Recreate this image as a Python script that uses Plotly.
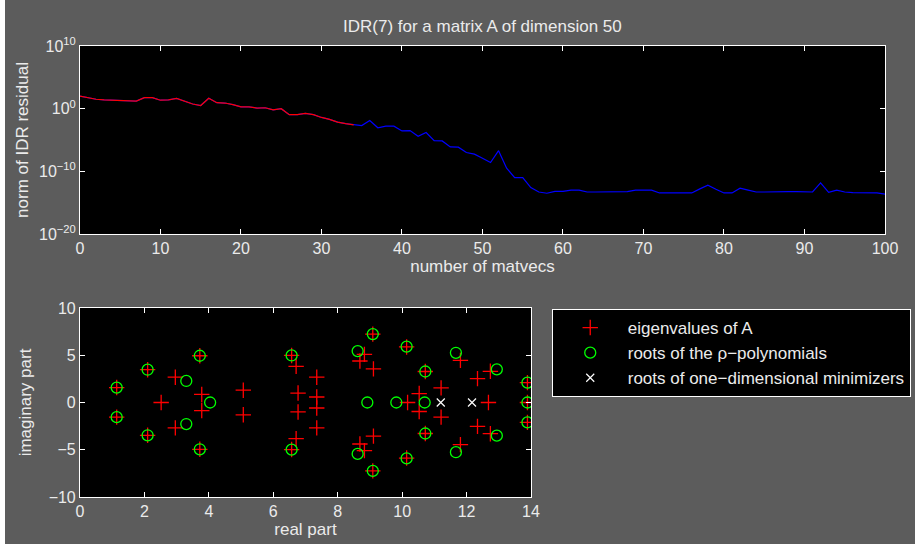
import plotly.graph_objects as go

# ---- residual history (log10 of the IDR residual norm) ----
matvecs = list(range(0, 101))
log_res = [2.0, 1.75, 1.5, 1.4, 1.35, 1.25, 1.2, 1.2, 1.75, 1.75,
           1.35, 1.4, 1.65, 1.25, 0.75, 0.5, 1.65, 0.95, 0.9, 0.65,
           0.3, 0.3, 0.1, 0.15, -0.2, 0.0, -0.95, -0.95, -0.75, -0.95,
           -1.4, -1.7, -2.15, -2.4, -2.6, -2.7, -1.9, -3.05, -2.8, -2.8,
           -3.55, -3.5, -4.4, -3.8, -5.1, -5.15, -6.1, -6.15, -7.0, -7.25,
           -7.9, -8.6, -6.7, -9.5, -11.0, -11.0, -12.6, -13.3, -13.5, -13.2,
           -13.2, -13.0, -13.0, -13.3, -13.3, -13.3, -13.25, -13.2, -13.25, -13.0,
           -13.0, -13.0, -13.45, -13.45, -13.5, -13.4, -13.45, -12.8, -12.2, -12.85,
           -13.45, -13.45, -12.7, -13.0, -13.3, -13.3, -13.25, -13.3, -13.25, -13.25,
           -13.25, -13.3, -11.85, -13.35, -13.0, -13.3, -13.4, -13.45, -13.45, -13.45,
           -13.65]
red_end = 34
residual = [10 ** v for v in log_res]

# ---- eigenvalues of A ----
eig_re = [1.14, 1.14, 2.1, 2.1, 2.52, 2.96, 2.96, 3.72, 3.72, 3.78, 3.78,
          5.07, 5.07, 6.57, 6.57, 6.71, 6.71, 6.77, 6.77,
          7.35, 7.35, 7.35, 7.35,
          9.09, 9.09, 8.83, 8.69, 8.69, 8.83, 9.11, 9.11, 10.14, 10.14, 10.17,
          10.53, 10.53, 10.72, 10.72, 11.21, 11.21, 11.81, 11.81, 12.34, 12.34,
          12.68, 12.74, 12.74, 13.89, 13.89, 13.89]
eig_im = [1.58, -1.55, 3.47, -3.47, 0.0, 2.68, -2.68, 4.95, -4.95, 0.85, -0.85,
          1.3, -1.3, 4.98, -4.98, 3.83, -3.83, 1.0, -1.0,
          2.68, 0.58, -0.58, -2.68,
          7.24, -7.24, 5.09, 4.39, -4.39, -5.09, 3.56, -3.56, 5.88, -5.88, 0.0,
          0.95, -0.95, 3.28, -3.28, 1.55, -1.55, 4.46, -4.46, 2.53, -2.53,
          0.0, 3.3, -3.3, 2.1, 0.0, -2.1]

# ---- roots of the rho-polynomials ----
rho_re = [1.14, 1.14, 2.1, 2.1, 3.3, 3.3, 3.72, 3.72, 4.04, 6.57, 6.57,
          9.09, 9.09, 8.62, 8.62, 8.92, 9.82, 10.14, 10.14, 10.7, 10.72, 10.72,
          11.67, 11.67, 12.94, 12.94, 13.89, 13.89, 13.89]
rho_im = [1.58, -1.55, 3.47, -3.47, 2.28, -2.28, 4.95, -4.95, 0.0, 4.98, -4.98,
          7.24, -7.24, 5.44, -5.44, 0.0, 0.0, 5.92, -5.92, 0.0, 3.28, -3.28,
          5.26, -5.26, 3.51, -3.51, 2.1, 0.0, -2.1]

# ---- roots of one-dimensional minimizers ----
min_re = [11.2, 12.17]
min_im = [0.0, 0.0]

BG = "#5c5c5c"
FG = "#ebebeb"
FONT = "Liberation Sans, Arial, sans-serif"

fig = go.Figure()

fig.add_trace(go.Scatter(x=matvecs, y=residual, mode="lines",
                         line=dict(color="#0000ff", width=1.2),
                         xaxis="x", yaxis="y", showlegend=False, hoverinfo="skip"))
fig.add_trace(go.Scatter(x=matvecs[:red_end + 1], y=residual[:red_end + 1], mode="lines",
                         line=dict(color="#ff0000", width=1.2),
                         xaxis="x", yaxis="y", showlegend=False, hoverinfo="skip"))

fig.add_trace(go.Scatter(x=eig_re, y=eig_im, mode="markers", name="eigenvalues of A",
                         marker=dict(symbol="cross-thin-open", size=11, color="#ff0000",
                                     line=dict(color="#ff0000", width=1.3)),
                         xaxis="x2", yaxis="y2"))
fig.add_trace(go.Scatter(x=rho_re, y=rho_im, mode="markers",
                         name="roots of the ρ−polynomials",
                         marker=dict(symbol="circle-open", size=11, color="#00ff00",
                                     line=dict(color="#00ff00", width=1.3)),
                         xaxis="x2", yaxis="y2"))
fig.add_trace(go.Scatter(x=min_re, y=min_im, mode="markers",
                         name="roots of one−dimensional minimizers",
                         marker=dict(symbol="x-thin-open", size=8, color="#ffffff",
                                     line=dict(color="#ffffff", width=1.2)),
                         xaxis="x2", yaxis="y2"))

axis_common = dict(showgrid=False, zeroline=False, showline=True, linecolor="#ffffff",
                   linewidth=1, mirror="ticks", ticks="inside", ticklen=5,
                   tickcolor="#ffffff", automargin=False,
                   tickfont=dict(color=FG, size=16, family=FONT))

fig.update_layout(
    width=915, height=544,
    paper_bgcolor=BG, plot_bgcolor="#000000",
    margin=dict(l=0, r=0, t=0, b=0),
    font=dict(family=FONT, color=FG, size=17),
    xaxis=dict(domain=[0.0874, 0.9672], range=[0, 100], tickvals=list(range(0, 101, 10)),
               title=dict(text="number of matvecs", standoff=2, font=dict(size=17)),
               anchor="y", **axis_common),
    yaxis=dict(domain=[0.5699, 0.9154], type="log", range=[-20, 10],
               tickvals=[1e-20, 1e-10, 1e0, 1e10],
               ticktext=["10<sup>−20</sup>", "10<sup>−10</sup>", "10<sup>0</sup>", "10<sup>10</sup>"],
               title=dict(text="norm of IDR residual", standoff=6, font=dict(size=17)),
               anchor="x", **axis_common),
    xaxis2=dict(domain=[0.0874, 0.5803], range=[0, 14], tickvals=list(range(0, 15, 2)),
                title=dict(text="real part", standoff=2, font=dict(size=17)),
                anchor="y2", **axis_common),
    yaxis2=dict(domain=[0.0864, 0.4338], range=[-10, 10], tickvals=[-10, -5, 0, 5, 10],
                title=dict(text="imaginary part", standoff=12, font=dict(size=17)),
                anchor="x2", **axis_common),
    showlegend=True,
    legend=dict(x=0.603, y=0.432, xanchor="left", yanchor="top",
                bgcolor="#000000", bordercolor="#ffffff", borderwidth=1,
                font=dict(color=FG, size=17, family=FONT),
                itemwidth=65, tracegroupgap=0),
    annotations=[dict(text="IDR(7) for a matrix A of dimension 50", xref="paper", yref="paper",
                      x=0.527, y=1 - 26 / 544, xanchor="center", yanchor="middle",
                      showarrow=False, font=dict(size=17, color=FG, family=FONT))],
    shapes=[dict(type="rect", xref="paper", yref="paper", x0=0, x1=5 / 915, y0=0, y1=1,
                 fillcolor="#ffffff", line=dict(width=0), layer="above")],
)

fig.write_html("out.html", config={"displayModeBar": False},
               post_script="document.body.style.margin='0';document.body.style.overflow='hidden';")
